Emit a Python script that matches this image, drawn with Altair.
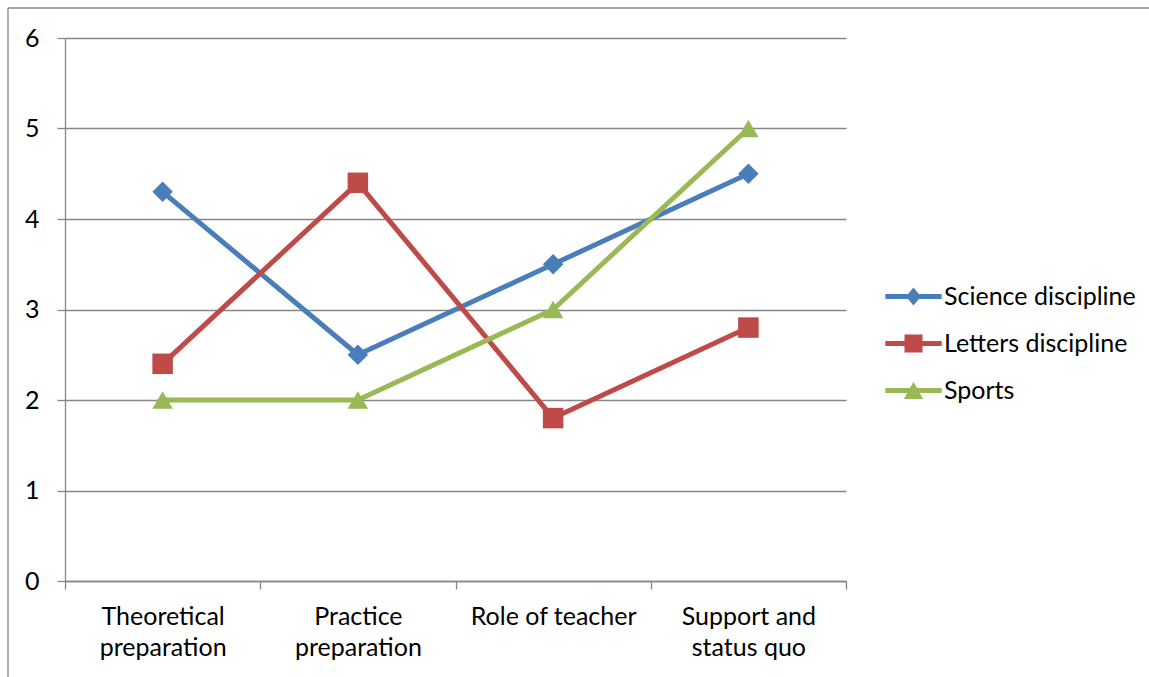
import altair as alt
import pandas as pd

# Survey aspects (x categories, with line breaks for the axis labels)
categories = [
    "Theoretical\npreparation",
    "Practice\npreparation",
    "Role of teacher",
    "Support and\nstatus quo",
]

# Mean scores per discipline
series_names = ["Science discipline", "Letters discipline", "Sports"]
science = [4.3, 2.5, 3.5, 4.5]
letters = [2.4, 4.4, 1.8, 2.8]
sports = [2.0, 2.0, 3.0, 5.0]

colors = ["#4A7EBB", "#BE4B48", "#98B954"]
y_ticks = [0, 1, 2, 3, 4, 5, 6]

rows = []
for name, vals in zip(series_names, [science, letters, sports]):
    for cat, v in zip(categories, vals):
        rows.append({"aspect": cat, "series": name, "score": v})
df = pd.DataFrame(rows)

FONT = "Lato"
FONT_SIZE = 25
GRID = "#868686"

# Legend symbols: a short line segment with the series marker on it
legend_paths = [
    "M-2.35,-0.2H2.35V0.2H-2.35Z M0,-0.75L0.62,0L0,0.75L-0.62,0Z",
    "M-2.35,-0.2H2.35V0.2H-2.35Z M-0.75,-0.75H0.75V0.75H-0.75Z",
    "M-2.35,-0.2H2.35V0.2H-2.35Z M0,-0.72L0.8,0.7L-0.8,0.7Z",
]

color_scale = alt.Scale(domain=series_names, range=colors)

x_enc = alt.X(
    "aspect:N",
    sort=categories,
    scale=alt.Scale(type="band", paddingInner=0, paddingOuter=0),
    axis=alt.Axis(
        title=None,
        labelAngle=0,
        tickBand="extent",
        grid=False,
        domainColor=GRID,
        domainWidth=1.3,
        tickColor=GRID,
        tickWidth=1.3,
        tickSize=8,
        labelFont=FONT,
        labelFontSize=FONT_SIZE,
        labelColor="#000000",
        labelBaseline="alphabetic",
        labelPadding=35,
        labelLineHeight=31,
        labelLimit=300,
        labelExpr="datum.value ? split(datum.value, '\\n') : ''",
    ),
)

y_enc = alt.Y(
    "score:Q",
    scale=alt.Scale(domain=[0, 6], nice=False, zero=True),
    axis=alt.Axis(
        title=None,
        values=y_ticks,
        grid=True,
        gridColor=GRID,
        gridWidth=1.3,
        domainColor=GRID,
        domainWidth=1.3,
        tickColor=GRID,
        tickWidth=1.3,
        tickSize=8,
        labelFont=FONT,
        labelFontSize=FONT_SIZE,
        labelColor="#000000",
        labelPadding=18,
    ),
)

base = alt.Chart(df)

lines = base.mark_line(strokeWidth=5, strokeJoin="round", strokeCap="round").encode(
    x=x_enc,
    y=y_enc,
    color=alt.Color("series:N", scale=color_scale, legend=None),
    detail="series:N",
)

points = base.mark_point(filled=True, opacity=1, size=420, strokeWidth=0).encode(
    x=x_enc,
    y=y_enc,
    color=alt.Color("series:N", scale=color_scale, legend=None),
    shape=alt.Shape(
        "series:N",
        scale=alt.Scale(domain=series_names, range=["diamond", "square", "triangle-up"]),
        legend=None,
    ),
)

legend_props = dict(
    title=None,
    orient="none",
    legendX=836,
    legendY=246,
    padding=0,
    symbolSize=576,
    symbolStrokeWidth=0,
    symbolOpacity=1,
    labelFont=FONT,
    labelFontSize=FONT_SIZE,
    labelColor="#000000",
    labelOffset=18,
    labelLimit=400,
    rowPadding=21,
)

legend_layer = base.mark_point(filled=True, opacity=0, size=1).encode(
    x=x_enc,
    y=y_enc,
    color=alt.Color("series:N", scale=color_scale, legend=alt.Legend(**legend_props)),
    shape=alt.Shape(
        "series:N",
        scale=alt.Scale(domain=series_names, range=legend_paths),
        legend=alt.Legend(**legend_props),
    ),
)

# Outer chart frame (left and top edges)
frame_src = alt.Chart(pd.DataFrame({"k": [0]}))
frame_left = frame_src.mark_rule(color=GRID, strokeWidth=1.3).encode(
    x=alt.value(-57), y=alt.value(-30), y2=alt.value(700)
)
frame_top = frame_src.mark_rule(color=GRID, strokeWidth=1.3).encode(
    x=alt.value(-57), x2=alt.value(1100), y=alt.value(-30)
)

chart = (
    alt.layer(frame_left, frame_top, lines, points, legend_layer)
    .resolve_scale(shape="independent", color="independent")
    .properties(
        width=781,
        height=543,
        autosize=alt.AutoSizeParams(type="none"),
        padding={"left": 65, "top": 38, "right": 303, "bottom": 96},
        background="#ffffff",
    )
    .configure_view(strokeWidth=0)
)

chart.save("out.html", embed_options={"renderer": "svg", "actions": False})
